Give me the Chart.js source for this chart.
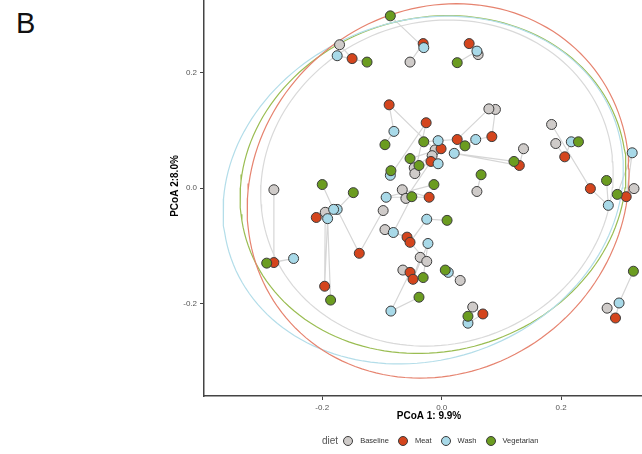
<!DOCTYPE html>
<html lang="en">
<head>
<meta charset="UTF-8">
<title>PCoA by diet</title>
<script src="https://cdn.jsdelivr.net/npm/chart.js@4.4.1/dist/chart.umd.min.js"></script>
<style>
    html, body {
        margin: 0;
        background: #fff;
    }
    body {
        width: 642px;
        height: 454px;
        overflow: hidden;
        position: relative;
        font-family: 'Liberation Sans', Arial, sans-serif;
    }
    #tag {
        position: absolute;
        left: 16px;
        top: 7px;
        font-size: 29px;
        color: #111;
    }
    #wrap {
        position: absolute;
        left: 0;
        top: -30px;
        width: 660px;
        height: 484px;
    }
    #legend {
        position: absolute;
        left: 322px;
        top: 435px;
        display: flex;
        align-items: center;
        white-space: nowrap;
    }
    #legend .ttl {
        font-size: 10px;
        color: #555;
        margin-right: 5px;
    }
    #legend .key {
        width: 10px;
        height: 10px;
        border-radius: 50%;
        border: 1px solid #3b3b3b;
        box-sizing: border-box;
        margin-right: 7px;
    }
    #legend .lab {
        font-size: 7.5px;
        color: #333;
        margin-right: 9px;
    }
</style>
</head>
<body>
<div id="tag">B</div>
<div id="wrap"><canvas id="pcoa"></canvas></div>
<div id="legend"><span class="ttl">diet</span></div>

<script>
    // groups and colours
    const diets = ['Baseline', 'Meat', 'Wash', 'Vegetarian'];
    const dietFill = ['#cfcbc9', '#d4451d', '#a8d9e8', '#6b9c20'];
    const ellipseColor = ['#d9d9d9', '#e6836f', '#b3dde9', '#9abd52'];

    // PCoA 1 / PCoA 2 per subject (same index = same subject, null = no sample)
    const baseline = [
        [-0.171, 0.248], [-0.053, 0.218], [0.061, 0.231], [0.090, 0.136], [0.079, 0.137],
        [0.191, 0.077], [0.184, 0.110], [0.322, -0.001], [0.277, -0.208], [0.137, 0.068],
        [0.059, -0.006], [-0.281, -0.003], [-0.195, -0.042], [-0.098, -0.039], null,
        [-0.095, -0.072], [-0.065, -0.142], [-0.036, -0.120], [-0.025, -0.127], [0.031, -0.160],
        [0.052, -0.206], [-0.066, -0.003], [-0.060, -0.018], [-0.046, 0.035], [-0.045, 0.025],
        [-0.011, 0.066], [-0.016, 0.056]
    ];
    const meat = [
        [-0.150, 0.224], [-0.031, 0.250], [0.046, 0.250], [0.084, 0.089], [0.026, 0.084],
        [0.206, 0.054], [0.249, -0.001], [0.309, -0.015], [0.291, -0.225], [0.130, 0.039],
        null, [-0.281, -0.129], [-0.196, -0.170], [-0.138, -0.113], [-0.210, -0.051],
        [-0.058, -0.085], [-0.053, -0.146], [-0.048, -0.158], [-0.053, -0.094], null,
        [0.069, -0.218], [-0.021, -0.016], [-0.018, 0.046], [-0.001, 0.068], [-0.026, 0.113],
        [-0.088, 0.144], null
    ];
    const wash = [
        [-0.175, 0.229], [-0.030, 0.243], [0.059, 0.237], [0.057, 0.084], [-0.006, 0.082],
        [0.217, 0.080], [0.279, -0.030], [0.319, 0.061], [0.297, -0.199], [0.021, 0.060],
        null, [-0.248, -0.122], [-0.191, -0.053], [-0.175, -0.037], [-0.181, -0.037],
        [-0.081, -0.077], [-0.085, -0.213], [-0.023, -0.096], [-0.025, -0.054], [0.011, -0.146],
        [0.044, -0.234], [-0.093, -0.016], [-0.006, 0.042], null, [-0.086, 0.022],
        [-0.080, 0.098], null
    ];
    const vegetarian = [
        [-0.125, 0.218], [-0.086, 0.298], [0.026, 0.217], [0.039, 0.073], [-0.030, 0.080],
        [0.229, 0.080], [0.276, 0.013], [0.294, -0.011], [0.321, -0.144], [0.121, 0.046],
        [0.066, 0.023], [-0.293, -0.130], [-0.186, -0.194], [-0.148, -0.008], [-0.200, 0.006],
        [-0.050, -0.015], [-0.038, -0.189], [-0.031, -0.155], [0.009, -0.056], [0.006, -0.142],
        [0.044, -0.222], [-0.013, 0.006], [-0.038, 0.039], [-0.053, 0.051], [-0.085, 0.030],
        [-0.095, 0.075], null
    ];

    // confidence ellipses: centre, semi-axes, rotation (degrees)
    const ellCx = [-0.008, -0.006, -0.031, -0.0145];
    const ellCy = [0.0086, -0.005, -0.0035, 0.006];
    const ellA = [0.300, 0.337, 0.343, 0.327];
    const ellB = [0.277, 0.306, 0.292, 0.288];
    const ellRot = [28, 49, 24, 19];

    // axes
    const xTicks = [-0.2, 0, 0.2];
    const xTickLabels = ['-0.2', '0.0', '0.2'];
    const yTicks = [-0.2, 0, 0.2];
    const yTickLabels = ['-0.2', '0.0', '0.2'];
    const xRange = [-0.398, 0.3555];
    const yRange = [-0.360, 0.367];

    const series = [baseline, meat, wash, vegetarian];

    function ellipsePath(cx, cy, a, b, deg) {
        const th = deg * Math.PI / 180;
        const pts = [];
        for (let i = 0; i <= 160; i++) {
            const t = i / 160 * 2 * Math.PI;
            pts.push({
                x: cx + a * Math.cos(t) * Math.cos(th) - b * Math.sin(t) * Math.sin(th),
                y: cy + a * Math.cos(t) * Math.sin(th) + b * Math.sin(t) * Math.cos(th)
            });
        }
        return pts;
    }

    const datasets = [];

    // sample points, on top
    series.forEach((pts, k) => {
        datasets.push({
            label: diets[k],
            data: pts.filter(p => p).map(([x, y]) => ({ x, y })),
            backgroundColor: dietFill[k],
            borderColor: '#3b3b3b',
            borderWidth: 1,
            pointRadius: 5,
            pointHoverRadius: 5,
            order: 4 - k
        });
    });

    // group ellipses
    diets.forEach((d, k) => {
        datasets.push({
            label: d + ' ellipse',
            data: ellipsePath(ellCx[k], ellCy[k], ellA[k], ellB[k], ellRot[k]),
            showLine: true,
            borderColor: ellipseColor[k],
            borderWidth: 1.2,
            pointRadius: 0,
            order: 10
        });
    });

    // paths linking each subject's samples
    baseline.forEach((_, s) => {
        const path = series.map(arr => arr[s]).filter(p => p).map(([x, y]) => ({ x, y }));
        if (path.length < 2) return;
        datasets.push({
            label: 'subject ' + (s + 1),
            data: path,
            showLine: true,
            borderColor: '#d6d6d6',
            borderWidth: 1.2,
            pointRadius: 0,
            order: 20
        });
    });

    // fixed axis box sizes, no extra label padding around the plot
    function fixBox(size) {
        return s => {
            if (s.isHorizontal()) s.height = size; else s.width = size;
            s.paddingTop = s.paddingBottom = s.paddingLeft = s.paddingRight = 0;
        };
    }

    Chart.defaults.font.family = "'Liberation Sans', Arial, sans-serif";

    new Chart(document.getElementById('pcoa'), {
        type: 'scatter',
        data: { datasets },
        options: {
            responsive: true,
            maintainAspectRatio: false,
            animation: false,
            layout: { padding: { left: 0, right: 4, top: 0, bottom: 0 } },
            plugins: {
                legend: { display: false },
                tooltip: { enabled: false }
            },
            scales: {
                x: {
                    type: 'linear',
                    min: xRange[0],
                    max: xRange[1],
                    afterBuildTicks: s => { s.ticks = xTicks.map(v => ({ value: v })); },
                    afterFit: fixBox(58),
                    ticks: {
                        callback: (v, i) => xTickLabels[i],
                        font: { size: 8 },
                        color: '#555',
                        padding: 3,
                        maxRotation: 0
                    },
                    grid: { drawOnChartArea: false, drawTicks: true, tickLength: 4, color: '#444', lineWidth: 1 },
                    border: { display: true, color: '#444', width: 1.5 },
                    title: {
                        display: true,
                        text: 'PCoA 1: 9.9%',
                        color: '#000',
                        font: { size: 10, weight: 'bold' },
                        padding: { top: 0, bottom: 32 }
                    }
                },
                y: {
                    type: 'linear',
                    min: yRange[0],
                    max: yRange[1],
                    afterBuildTicks: s => { s.ticks = yTicks.map(v => ({ value: v })); },
                    afterFit: fixBox(204),
                    ticks: {
                        callback: (v, i) => yTickLabels[i],
                        font: { size: 8 },
                        color: '#555',
                        padding: 3
                    },
                    grid: { drawOnChartArea: false, drawTicks: true, tickLength: 4, color: '#444', lineWidth: 1 },
                    border: { display: true, color: '#444', width: 1.5 },
                    title: {
                        display: true,
                        text: 'PCoA 2:8.0%',
                        color: '#000',
                        font: { size: 10, weight: 'bold' },
                        padding: { top: 169, bottom: 0 }
                    }
                }
            }
        }
    });

    // legend
    const legend = document.getElementById('legend');
    diets.forEach((d, k) => {
        const key = document.createElement('span');
        key.className = 'key';
        key.style.background = dietFill[k];
        const lab = document.createElement('span');
        lab.className = 'lab';
        lab.textContent = d;
        legend.appendChild(key);
        legend.appendChild(lab);
    });
</script>
</body>
</html>
